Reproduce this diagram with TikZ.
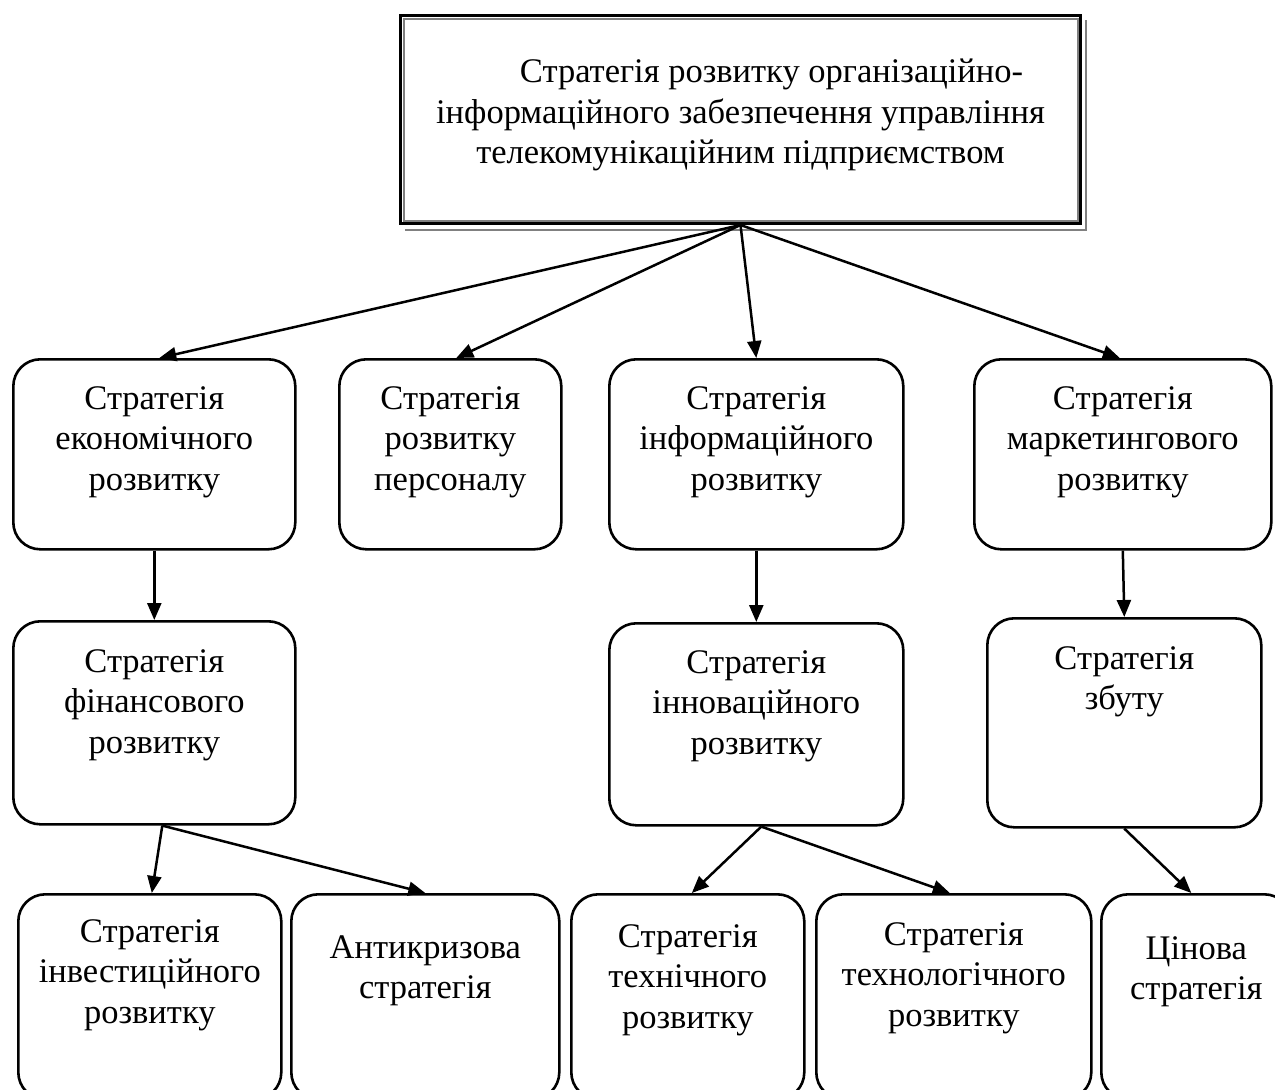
\documentclass[tikz,border=0pt]{standalone}
\usepackage{fontspec}
\setmainfont{Liberation Serif}
\usetikzlibrary{arrows.meta}

\newcommand{\boxtext}[4]{\parbox[c][#2bp][t]{#1bp}{\centering\rule{0pt}{#3bp}#4}}

\begin{document}
\begin{tikzpicture}[x=1bp, y=-1bp,
    font=\fontsize{34.5bp}{40.5bp}\selectfont,
    box/.style={draw, line width=2.6bp, rounded corners=27bp, inner sep=0pt, anchor=north west},
    arr/.style={line width=2.5bp, -{Triangle[length=17bp, width=14bp]}},
    shade/.style={draw=gray, line width=2bp}]
    \useasboundingbox (0,0) rectangle (1275,1090);
    \clip (0,0) rectangle (1275,1090);

    % main box
    \node[draw, line width=3bp, fill=white, inner sep=0pt, anchor=north west] (top) at (399,14)
        {\boxtext{680}{208}{67}{\hspace*{62bp}Стратегія розвитку організаційно-\\інформаційного забезпечення управління\\телекомунікаційним підприємством}};
    \draw[shade] ([shift={(5,5)}]top.north west) rectangle ([shift={(-4,-4)}]top.south east);
    \draw[shade] ([shift={(6,5)}]top.south west) -| ([shift={(4,6)}]top.north east);

    % first level
    \node[box] (eco) at (12,358) {\boxtext{282}{190}{50}{Стратегія\\економічного\\розвитку}};
    \node[box] (staff) at (338,358) {\boxtext{222}{190}{50}{Стратегія\\розвитку\\персоналу}};
    \node[box] (info) at (608,358) {\boxtext{294}{190}{50}{Стратегія\\інформаційного\\розвитку}};
    \node[box] (market) at (973,358) {\boxtext{297}{190}{50}{Стратегія\\маркетингового\\розвитку}};

    % second level
    \node[box] (fin) at (12,620) {\boxtext{282}{203}{51}{Стратегія\\фінансового\\розвитку}};
    \node[box] (innov) at (608,622) {\boxtext{294}{202}{50}{Стратегія\\інноваційного\\розвитку}};
    \node[box] (sales) at (986,617) {\boxtext{274}{209}{51}{Стратегія\\збуту}};

    % third level
    \node[box] (invest) at (17,893) {\boxtext{263}{205}{48}{Стратегія\\інвестиційного\\розвитку}};
    \node[box] (crisis) at (290,893) {\boxtext{268}{205}{64}{Антикризова\\стратегія}};
    \node[box] (tech) at (570,893) {\boxtext{233}{205}{53}{Стратегія\\технічного\\розвитку}};
    \node[box] (techno) at (815,893) {\boxtext{275}{205}{51}{Стратегія\\технологічного\\розвитку}};
    \node[box] (price) at (1100,893) {\boxtext{190}{205}{65}{Цінова\\стратегія}};

    \draw[arr] (top.south) -- ([xshift=5bp]eco.north);
    \draw[arr] (top.south) -- ([xshift=6bp]staff.north);
    \draw[arr] (top.south) -- (info.north);
    \draw[arr] (top.south) -- ([xshift=-3bp]market.north);
    \draw[arr] (eco.south) -- (fin.north);
    \draw[arr] (info.south) -- (innov.north);
    \draw[arr] (market.south) -- (sales.north);
    \draw[arr] ([xshift=8bp]fin.south) -- ([xshift=2bp]invest.north);
    \draw[arr] ([xshift=8bp]fin.south) -- (crisis.north);
    \draw[arr] ([xshift=5bp]innov.south) -- ([xshift=4bp]tech.north);
    \draw[arr] ([xshift=5bp]innov.south) -- ([xshift=-4bp]techno.north);
    \draw[arr] (sales.south) -- ([xshift=-5bp]price.north);
\end{tikzpicture}
\end{document}
